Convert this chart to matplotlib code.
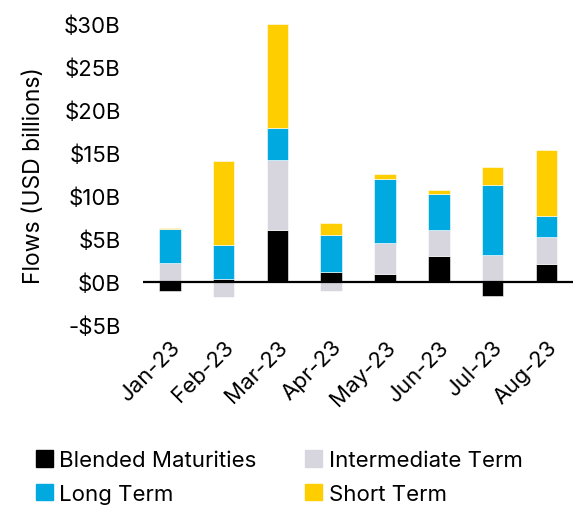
import numpy as np
import matplotlib.pyplot as plt
from matplotlib.patches import Patch

plt.rcParams['font.family'] = ['Inter', 'DejaVu Sans']

# Dados (USD bilhões)
months = ["Jan-23", "Feb-23", "Mar-23", "Apr-23", "May-23", "Jun-23", "Jul-23", "Aug-23"]
blended = [-1.1, 0.3, 6.0, 1.2, 0.9, 3.0, -1.7, 2.1]
intermediate = [2.2, -1.8, 8.2, -1.1, 3.6, 3.0, 3.1, 3.1]
long_term = [3.9, 4.0, 3.7, 4.2, 7.5, 4.2, 8.2, 2.5]
short_term = [0.15, 9.7, 12.1, 1.4, 0.5, 0.5, 2.1, 7.6]

series = [
    ("Blended Maturities", blended, "#000000"),
    ("Intermediate Term", intermediate, "#D7D6DF"),
    ("Long Term", long_term, "#00A9E0"),
    ("Short Term", short_term, "#FFCE00"),
]
yticks = [-5, 0, 5, 10, 15, 20, 25, 30]


def main():
    fig = plt.figure(figsize=(5.79, 5.06), dpi=100)
    ax = fig.add_axes([0.247, 0.356, 0.743, 0.595])
    x = np.arange(len(months))
    pos_base = np.zeros(len(months))
    neg_base = np.zeros(len(months))
    handles = {}
    for name, vals, color in series:
        vals = np.array(vals)
        bottom = np.where(vals >= 0, pos_base, neg_base)
        ax.bar(x, vals, width=0.4, bottom=bottom, color=color,
               edgecolor="white", linewidth=0.4)
        pos_base += np.where(vals >= 0, vals, 0)
        neg_base += np.where(vals < 0, vals, 0)
        handles[name] = Patch(color=color, label=name)

    ax.axhline(0, color="black", linewidth=1.6, zorder=5)
    ax.set_xlim(-0.5, 7.5)
    ax.set_ylim(-5, 30)
    ax.set_yticks(yticks)
    ax.set_yticklabels([f"-${-v}B" if v < 0 else f"${v}B" for v in yticks])
    ax.set_xticks(x)
    ax.set_xticklabels(months, rotation=45, ha="right", rotation_mode="anchor")
    ax.tick_params(axis="both", length=0, labelsize=16)
    ax.tick_params(axis="y", pad=16)
    ax.tick_params(axis="x", pad=8)
    for s in ax.spines.values():
        s.set_visible(False)
    ax.set_ylabel("Flows (USD billions)", fontsize=16.5, labelpad=14)

    order = ["Blended Maturities", "Long Term", "Intermediate Term", "Short Term"]
    fig.legend(handles=[handles[n] for n in order], ncol=2, frameon=False,
               loc="upper left", bbox_to_anchor=(0.062, 0.108),
               fontsize=16, handlelength=0.75, handleheight=0.75,
               handletextpad=0.3, columnspacing=2.2, labelspacing=0.6,
               borderaxespad=0, borderpad=0)

    fig.savefig("out.png", dpi=100)
    plt.close(fig)


if __name__ == "__main__":
    main()
